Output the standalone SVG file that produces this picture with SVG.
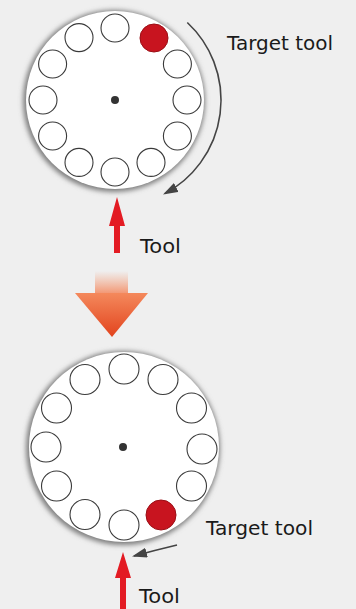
<svg xmlns="http://www.w3.org/2000/svg" width="356" height="609" viewBox="0 0 356 609">
<defs>
<style>
.bg{fill:#efefef}
.disk{fill:#ffffff}
.halo{fill:#7e7e7e;filter:url(#blur)}
.slot{fill:#ffffff;stroke:#3a3a3a;stroke-width:1.1}
.red{fill:#c8141f;stroke:#9a0f16;stroke-width:1}
.hub{fill:#333333}
.lbl{font-family:"DejaVu Sans","Liberation Sans",sans-serif;font-size:20px;fill:#1a1a1a}
.rot{fill:none;stroke:#444444;stroke-width:1.6}
.feed{fill:#e31b23}
</style>
<filter id="blur" x="-20%" y="-20%" width="140%" height="140%"><feGaussianBlur stdDeviation="2.4"/></filter>
<marker id="ah" markerUnits="userSpaceOnUse" markerWidth="15" markerHeight="10" refX="13" refY="5" orient="auto"><path d="M0,0 L15,5 L0,10 Z" fill="#444444"/></marker>
<linearGradient id="tri" x1="0" y1="0" x2="0" y2="1"><stop offset="0" stop-color="#f4895c"/><stop offset="1" stop-color="#e2431d"/></linearGradient>
<linearGradient id="tail" x1="0" y1="0" x2="0" y2="1"><stop offset="0" stop-color="#f4a07c" stop-opacity="0"/><stop offset="1" stop-color="#f39470"/></linearGradient>
</defs>
<rect class="bg" x="0" y="0" width="356" height="609"/>

<g id="magazine-before">
<circle class="halo" cx="114" cy="101" r="91"/>
<circle class="disk" cx="115" cy="100" r="89"/>
<circle class="slot" cx="187" cy="100" r="14"/>
<circle class="slot" cx="177.4" cy="136" r="14"/>
<circle class="slot" cx="151" cy="162.4" r="14"/>
<circle class="slot" cx="115" cy="172" r="14"/>
<circle class="slot" cx="79" cy="162.4" r="14"/>
<circle class="slot" cx="52.6" cy="136" r="14"/>
<circle class="slot" cx="43" cy="100" r="14"/>
<circle class="slot" cx="52.6" cy="64" r="14"/>
<circle class="slot" cx="79" cy="37.6" r="14"/>
<circle class="slot" cx="115" cy="28" r="14"/>
<circle class="red" cx="154" cy="38" r="14"/>
<circle class="slot" cx="177.4" cy="64" r="14"/>
<circle class="hub" cx="115" cy="100" r="4"/>
</g>

<g id="magazine-after">
<circle class="halo" cx="123" cy="448" r="97"/>
<circle class="disk" cx="124" cy="447" r="95"/>
<circle class="slot" cx="202" cy="449" r="15"/>
<circle class="slot" cx="191.5" cy="486" r="15"/>
<circle class="red" cx="161" cy="515" r="15"/>
<circle class="slot" cx="124" cy="525" r="15"/>
<circle class="slot" cx="85" cy="514.5" r="15"/>
<circle class="slot" cx="56.5" cy="486" r="15"/>
<circle class="slot" cx="46" cy="447" r="15"/>
<circle class="slot" cx="56.5" cy="408" r="15"/>
<circle class="slot" cx="85" cy="379.5" r="15"/>
<circle class="slot" cx="124" cy="369" r="15"/>
<circle class="slot" cx="163" cy="379.5" r="15"/>
<circle class="slot" cx="191.5" cy="408" r="15"/>
<circle class="hub" cx="123" cy="447" r="4"/>
</g>

<g id="step-arrow">
<rect x="95" y="271" width="33" height="23" fill="url(#tail)"/>
<polygon points="75,293 148,293 112,337" fill="url(#tri)"/>
</g>

<g id="connectors">
<path class="rot" d="M187.3,22.5 A106,106 0 0 1 164.8,193.6" marker-end="url(#ah)"/>
<path class="rot" d="M177,545 Q156,550 134,556" marker-end="url(#ah)"/>
<polygon class="feed" points="117,197 125,226 120,226 120,253 114,253 114,226 109,226"/>
<polygon class="feed" points="123,552 131,578 126,578 126,609 120,609 120,578 115,578"/>
</g>

<g id="labels">
<text class="lbl" x="227" y="50" textLength="106" lengthAdjust="spacingAndGlyphs">Target tool</text>
<text class="lbl" x="140" y="253" textLength="41" lengthAdjust="spacingAndGlyphs">Tool</text>
<text class="lbl" x="206" y="535" textLength="107" lengthAdjust="spacingAndGlyphs">Target tool</text>
<text class="lbl" x="139" y="603" textLength="41" lengthAdjust="spacingAndGlyphs">Tool</text>
</g>
</svg>
